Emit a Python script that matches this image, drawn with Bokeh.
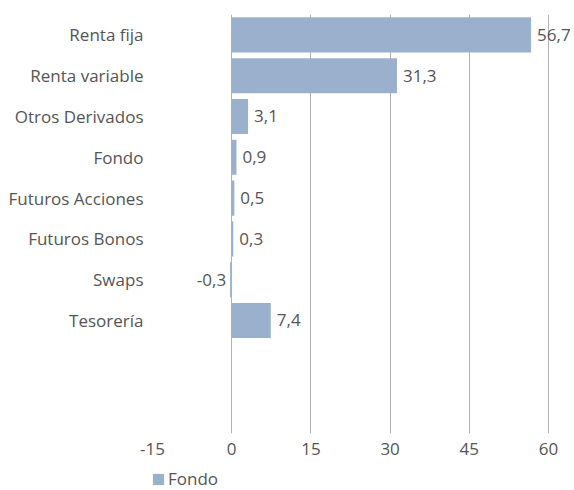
from bokeh.plotting import figure
from bokeh.layouts import column
from bokeh.models import ColumnDataSource, Range1d, LabelSet, Legend, LegendItem, FixedTicker
from bokeh.core.properties import value
from bokeh.embed import file_html
from bokeh.resources import INLINE

categories = ["Renta fija", "Renta variable", "Otros Derivados", "Fondo",
              "Futuros Acciones", "Futuros Bonos", "Swaps", "Tesorería"]
values = [56.7, 31.3, 3.1, 0.9, 0.5, 0.3, -0.3, 7.4]
x_ticks = [-15, 0, 15, 30, 45, 60]
x_tick_labels = ["-15", "0", "15", "30", "45", "60"]
series_name = "Fondo"

BAR = "#9bb0cc"
TXT = "#555555"
FONT = "Open Sans"
FS = "17px"

pos = [i + 0.5 for i in range(len(categories))]
labels = [f"{v:.1f}".replace(".", ",") for v in values]
pos_src = ColumnDataSource(dict(
    y=[p for p, v in zip(pos, values) if v >= 0],
    x=[v for v in values if v >= 0],
    t=[l for l, v in zip(labels, values) if v >= 0]))
neg_src = ColumnDataSource(dict(
    y=[p for p, v in zip(pos, values) if v < 0],
    x=[v for v in values if v < 0],
    t=[l for l, v in zip(labels, values) if v < 0]))
bar_src = ColumnDataSource(dict(y=pos, right=values))

p = figure(width=574, height=465, output_backend="svg", toolbar_location=None,
           x_range=Range1d(-15, 64.92), y_range=Range1d(10.27, 0),
           min_border_left=152, min_border_right=0, min_border_top=14,
           min_border_bottom=32, outline_line_color=None)

r = p.hbar(y="y", right="right", left=0, height=0.86, source=bar_src,
           color=BAR, line_color=None)

p.xaxis.ticker = FixedTicker(ticks=x_ticks)
p.xaxis.major_label_overrides = {t: l for t, l in zip(x_ticks, x_tick_labels)}
p.xaxis.axis_line_color = None
p.xaxis.major_tick_line_color = None
p.xaxis.minor_tick_line_color = None
p.xaxis.major_label_text_font = FONT
p.xaxis.major_label_text_font_size = FS
p.xaxis.major_label_text_color = TXT
p.xaxis.major_label_standoff = 3

p.yaxis.ticker = FixedTicker(ticks=pos)
p.yaxis.major_label_overrides = {pp: c for pp, c in zip(pos, categories)}
p.yaxis.axis_line_color = None
p.yaxis.major_tick_line_color = None
p.yaxis.minor_tick_line_color = None
p.yaxis.major_label_text_font = FONT
p.yaxis.major_label_text_font_size = FS
p.yaxis.major_label_text_color = TXT
p.yaxis.major_label_standoff = 3

p.xgrid.grid_line_color = "#b3b3b3"
p.ygrid.grid_line_color = None

for src, align, off in [(pos_src, "left", 6), (neg_src, "right", -4)]:
    p.add_layout(LabelSet(x="x", y="y", text="t", source=src, x_offset=off,
                          text_align=align, text_baseline="middle",
                          text_font=value(FONT), text_font_size=FS, text_color=TXT))

# legend strip below the chart (bars themselves fall outside this strip's range)
lg = figure(width=574, height=25, output_backend="svg", toolbar_location=None,
            x_range=Range1d(0, 1), y_range=Range1d(100, 101),
            min_border=0, outline_line_color=None)
lg.axis.visible = False
lg.grid.visible = False
swatch = lg.hbar(y="y", right="right", left=0, height=0.86, source=bar_src,
                 color=BAR, line_color=None)
legend = Legend(items=[LegendItem(label=series_name, renderers=[swatch])],
                location=(-1, 0), orientation="horizontal",
                label_text_font=FONT, label_text_font_size=FS,
                label_text_color=TXT, glyph_width=14, glyph_height=14,
                label_height=16, label_standoff=3, padding=0, margin=0,
                border_line_color=None, background_fill_alpha=0)
lg.add_layout(legend, "center")

open("out.html", "w").write(file_html(column(p, lg, spacing=0), INLINE))
